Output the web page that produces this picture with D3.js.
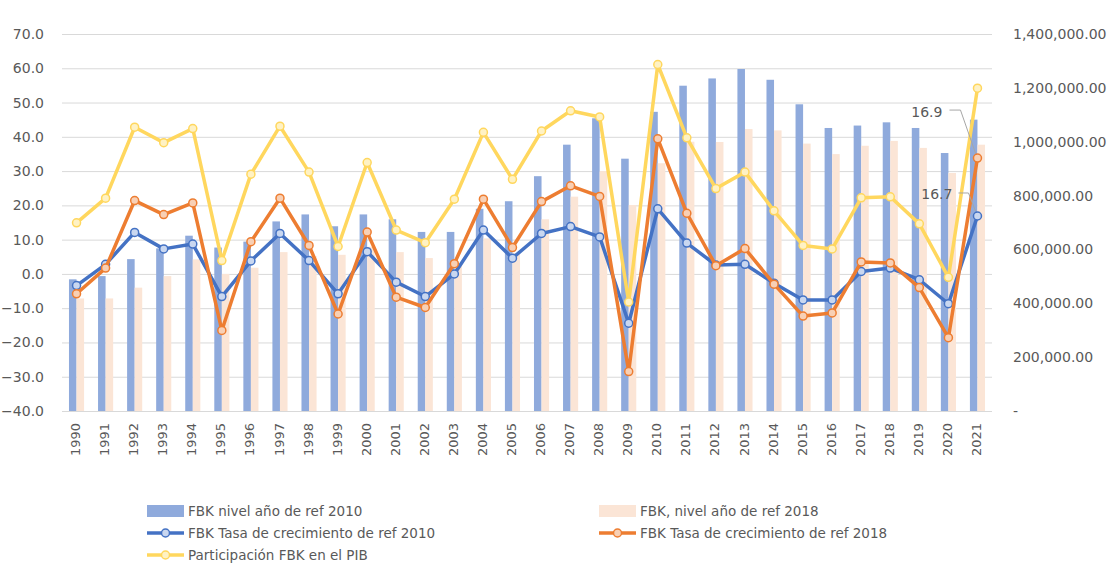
<!DOCTYPE html>
<html>
<head>
<meta charset="utf-8">
<script src="https://cdn.jsdelivr.net/npm/d3@7"></script>
<style>
  body { margin: 0; background: #fff; }
  text { font-family: "DejaVu Sans", sans-serif; fill: #595959; }
</style>
</head>
<body>
<div id="chart"></div>
<script>
const years = ["1990","1991","1992","1993","1994","1995","1996","1997","1998","1999",
  "2000","2001","2002","2003","2004","2005","2006","2007","2008","2009",
  "2010","2011","2012","2013","2014","2015","2016","2017","2018","2019","2020","2021"];

// bars, right axis
const nivel2010 = [489000, 501000, 564000, 604000, 651000, 607000, 629000, 704000, 730000, 686000,
  730000, 712000, 665000, 665000, 751000, 779000, 872000, 989000, 1087000, 937000,
  1111000, 1208000, 1235000, 1270000, 1230000, 1139000, 1051000, 1060000, 1072000, 1051000, 958000, 1082000];
const nivel2018 = [418000, 418000, 458000, 501000, 563000, 509000, 532000, 590000, 575000, 580000,
  610000, 590000, 568000, 540000, 641000, 586000, 712000, 796000, 891000, 765000,
  920000, 1000000, 999000, 1047000, 1042000, 993000, 954000, 985000, 1003000, 977000, 884000, 989000];

// lines, left axis
const tasa2010 = [-3.4, 2.8, 12.1, 7.3, 8.7, -6.6, 3.8, 11.8, 3.9, -5.8, 6.5, -2.4, -6.6, 0.0, 12.8, 4.6,
  11.8, 13.8, 10.8, -14.4, 19.0, 9.0, 2.6, 2.8, -2.7, -7.6, -7.6, 0.7, 1.7, -1.7, -8.7, 16.9];
const tasa2018 = [-5.8, 1.7, 21.4, 17.3, 20.7, -16.5, 9.4, 22.1, 8.3, -11.7, 12.2, -6.8, -9.8, 3.0, 21.8, 7.7,
  21.1, 25.7, 22.6, -28.5, 39.4, 17.7, 2.4, 7.4, -3.0, -12.3, -11.4, 3.5, 3.2, -4.0, -18.6, 33.8];
const participacion = [14.9, 22.1, 42.8, 38.3, 42.4, 3.9, 29.1, 43.1, 29.7, 8.0, 32.5, 12.8, 9.1, 21.8, 41.3, 27.6,
  41.7, 47.6, 45.8, -8.2, 61.1, 39.7, 24.9, 29.7, 18.4, 8.3, 7.3, 22.2, 22.5, 14.6, -1.0, 54.2];

const leftTicks = [-40, -30, -20, -10, 0, 10, 20, 30, 40, 50, 60, 70];
const rightTicks = [0, 200000, 400000, 600000, 800000, 1000000, 1200000, 1400000];

const legendNames = ["FBK nivel año de ref 2010", "FBK, nivel año de ref 2018",
  "FBK Tasa de crecimiento de ref 2010", "FBK Tasa de crecimiento de ref 2018",
  "Participación FBK en el PIB"];

let width = 1113, height = 565;
let margin = { top: 34, left: 62, right: 121, bottom: 154 };

let svg = d3.select("#chart").append("svg")
  .attr("width", width)
  .attr("height", height);

const x = d3.scaleBand().domain(years)
  .range([margin.left, width - margin.right])
  .paddingInner(0.48).paddingOuter(0.24);
const xs = d3.scaleBand().domain(["n2010", "n2018"]).range([0, x.bandwidth()]);
const yL = d3.scaleLinear().domain([-40, 70]).range([height - margin.bottom, margin.top]);
const yR = d3.scaleLinear().domain([0, 1400000]).range([height - margin.bottom, margin.top]);
const cx = d => x(d) + x.bandwidth() / 2;

// gridlines
svg.append("g").selectAll("line")
  .data(leftTicks)
  .join("line")
  .attr("x1", margin.left).attr("x2", width - margin.right)
  .attr("y1", d => yL(d) + 0.5).attr("y2", d => yL(d) + 0.5)
  .attr("stroke", "#d9d9d9").attr("stroke-width", 1);

// left axis
const leftAxis = svg.append("g")
  .attr("transform", "translate(" + (margin.left - 18) + ",0)")
  .call(d3.axisLeft(yL).tickValues(leftTicks).tickFormat(d3.format(".1f")).tickSize(0).tickPadding(0));
leftAxis.select(".domain").remove();
leftAxis.selectAll("text").style("font-size", "14px").attr("fill", "#595959");

// right axis
const rightAxis = svg.append("g")
  .attr("transform", "translate(" + (width - margin.right + 21) + ",0)")
  .call(d3.axisRight(yR).tickValues(rightTicks)
    .tickFormat(d => d === 0 ? "-" : d3.format(",.2f")(d)).tickSize(0).tickPadding(0));
rightAxis.select(".domain").remove();
rightAxis.selectAll("text").style("font-size", "14px").attr("fill", "#595959");

// year labels
svg.append("g").selectAll("text")
  .data(years)
  .join("text")
  .attr("transform", d => "translate(" + (cx(d) - 1) + "," + (height - margin.bottom + 12) + ") rotate(-90)")
  .attr("text-anchor", "end")
  .attr("dy", "0.35em")
  .style("font-size", "13px")
  .text(d => d);

// bars
const barData = years.map((yr, i) => ({ year: yr, n2010: nivel2010[i], n2018: nivel2018[i] }));
const barColors = { n2010: "#8faadc", n2018: "#fbe5d6" };
const bars = svg.append("g");
["n2010", "n2018"].forEach(k => {
  bars.selectAll("rect." + k)
    .data(barData)
    .join("rect")
    .attr("class", k)
    .attr("x", d => x(d.year) + xs(k))
    .attr("width", xs.bandwidth())
    .attr("y", d => yR(d[k]))
    .attr("height", d => yR(0) - yR(d[k]))
    .attr("fill", barColors[k]);
});

// lines
const lineSeries = [
  { values: tasa2010, color: "#4472c4", fill: "#c9d7f0" },
  { values: tasa2018, color: "#ed7d31", fill: "#f8d0b5" },
  { values: participacion, color: "#ffd75e", fill: "#fff2c4" }
];
const line = d3.line().x(d => cx(d.year)).y(d => yL(d.v));

lineSeries.forEach(s => {
  const pts = years.map((yr, i) => ({ year: yr, v: s.values[i] }));
  svg.append("path")
    .datum(pts)
    .attr("d", line)
    .attr("fill", "none")
    .attr("stroke", s.color)
    .attr("stroke-width", 3.5)
    .attr("stroke-linejoin", "round");
  svg.append("g").selectAll("circle")
    .data(pts)
    .join("circle")
    .attr("cx", d => cx(d.year))
    .attr("cy", d => yL(d.v))
    .attr("r", 4)
    .attr("fill", s.fill)
    .attr("stroke", s.color)
    .attr("stroke-width", 1.5);
});

// data labels at 2021
const lastYear = years[years.length - 1];
const dataLabels = [
  { text: "16.9", value: tasa2018[tasa2018.length - 1], tx: -35, ty: -41, ly: -48, l1: -28, l2: -17, endY: -5 },
  { text: "16.7", value: tasa2010[tasa2010.length - 1], tx: -25, ty: -17, ly: -23, l1: -19, l2: -9, endY: -5 }
];
dataLabels.forEach(l => {
  const px = cx(lastYear), py = yL(l.value);
  svg.append("polyline")
    .attr("points", [[px + l.l1, py + l.ly], [px + l.l2, py + l.ly], [px - 2, py + l.endY]].join(" "))
    .attr("fill", "none")
    .attr("stroke", "#a6a6a6")
    .attr("stroke-width", 1);
  svg.append("text")
    .attr("x", px + l.tx)
    .attr("y", py + l.ty)
    .attr("text-anchor", "end")
    .style("font-size", "14px")
    .attr("fill", "#404040")
    .text(l.text);
});

// legend
const legend = svg.append("g");
const legendCols = [147, 599];
legendNames.forEach((name, i) => {
  const gx = legendCols[i % 2], gy = 511 + Math.floor(i / 2) * 22;
  const g = legend.append("g").attr("transform", "translate(" + gx + "," + gy + ")");
  if (i < 2) {
    g.append("rect").attr("x", 0).attr("y", -6).attr("width", 37).attr("height", 12)
      .attr("fill", i === 0 ? barColors.n2010 : barColors.n2018);
  } else {
    const s = lineSeries[i - 2];
    g.append("line").attr("x1", 0).attr("x2", 37).attr("y1", 0).attr("y2", 0)
      .attr("stroke", s.color).attr("stroke-width", 3.5);
    g.append("circle").attr("cx", 18.5).attr("cy", 0).attr("r", 4)
      .attr("fill", s.fill).attr("stroke", s.color).attr("stroke-width", 1.5);
  }
  g.append("text").attr("x", 41).attr("y", 0).attr("dy", "0.36em")
    .style("font-size", "13.5px").text(name);
});
</script>
</body>
</html>
